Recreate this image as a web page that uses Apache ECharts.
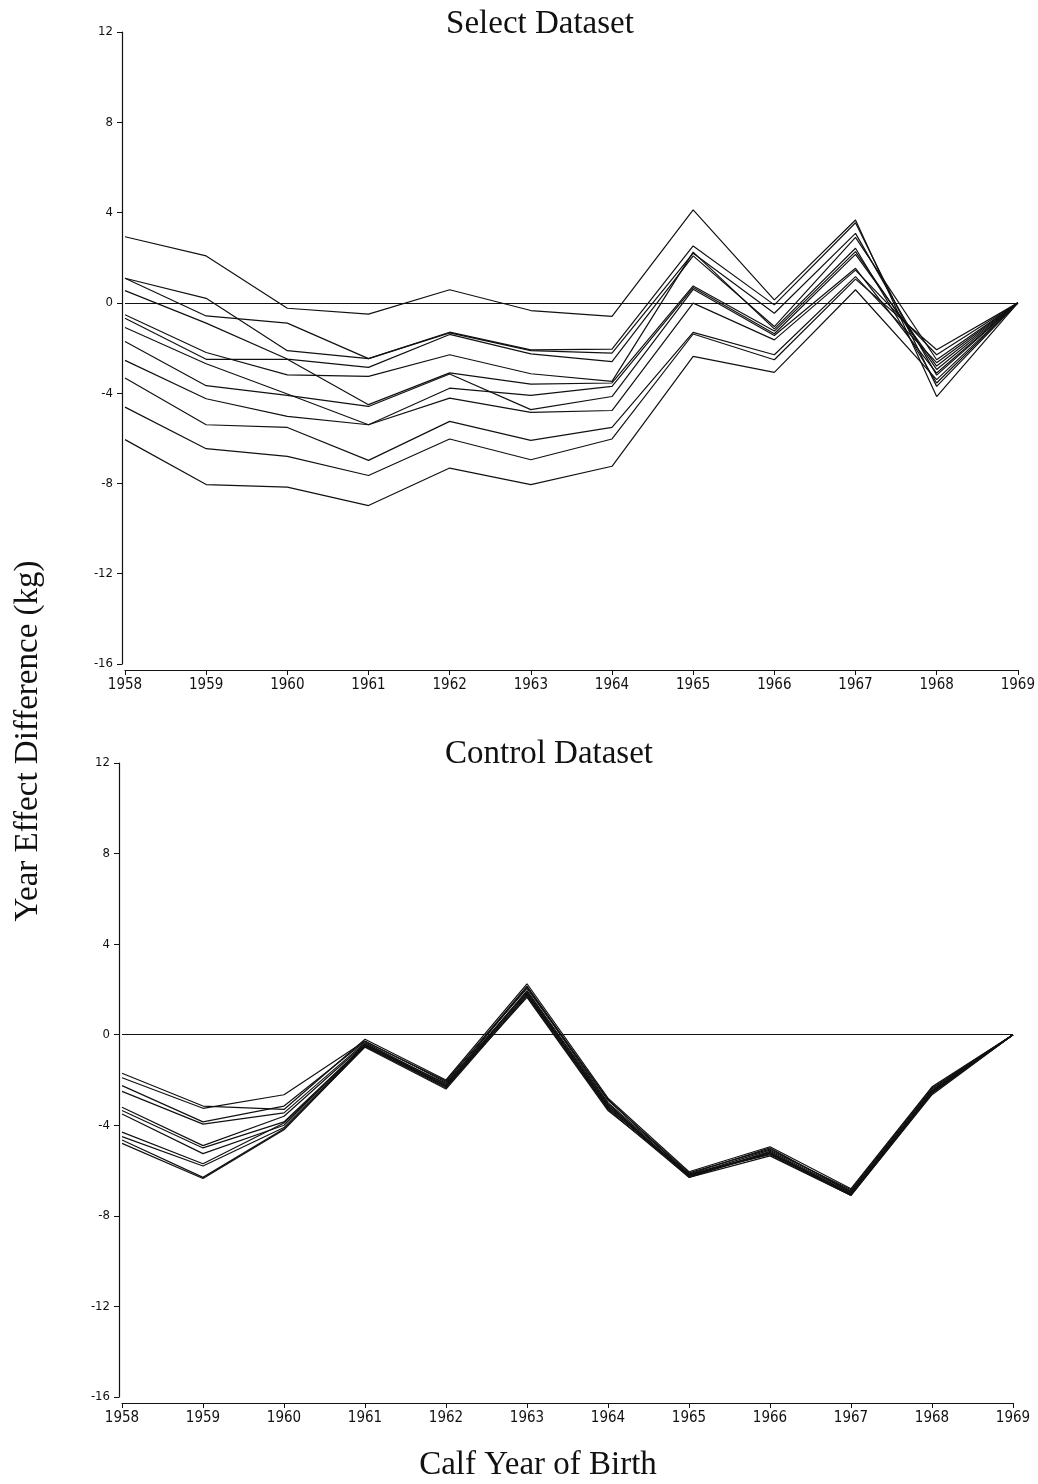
<!DOCTYPE html>
<html>
<head>
<meta charset="utf-8">
<title>Year Effect Difference</title>
<script src="https://cdn.jsdelivr.net/npm/echarts@6/dist/echarts.min.js"></script>
<style>
  html, body { margin: 0; padding: 0; background: #fff; }
  #chart { width: 1038px; height: 1484px; }
</style>
</head>
<body>
<div id="chart"></div>
<script>
// Calf year of birth (shared by both panels)
const years = ['1958','1959','1960','1961','1962','1963','1964','1965','1966','1967','1968','1969'];
const yTicks = { min: -16, max: 12, step: 4 };

// Select dataset: year-effect differences (kg), one run per array
const sel1  = [ 2.93,  2.08, -0.24, -0.50,  0.58, -0.34, -0.60,  4.12,  0.13,  3.67, -4.15, 0];
const sel2  = [ 1.09,  0.20, -2.12, -2.47, -1.30, -2.08, -2.05,  2.52, -0.09,  3.55, -3.70, 0];
const sel3  = [ 1.09, -0.58, -0.90, -2.47, -1.33, -2.12, -2.23,  2.20, -0.46,  3.08, -3.20, 0];
const sel4  = [ 0.54, -0.90, -2.49, -2.86, -1.40, -2.26, -2.60,  2.08, -1.05,  2.90, -2.52, 0];
const sel5  = [-0.53, -2.20, -3.19, -3.26, -2.30, -3.14, -3.48,  2.25, -1.15,  2.42, -3.55, 0];
const sel6  = [-0.68, -2.50, -2.50, -4.51, -3.10, -3.60, -3.55,  0.75, -1.25,  2.27, -2.95, 0];
const sel7  = [-1.09, -2.70, -4.04, -5.40, -3.78, -4.10, -3.70,  0.68, -1.37,  2.15, -2.80, 0];
const sel8  = [-1.71, -3.67, -4.10, -4.59, -3.15, -4.73, -4.15,  0.60, -1.45,  1.53, -3.11, 0];
const sel9  = [-2.55, -4.25, -5.03, -5.40, -4.22, -4.85, -4.77, -0.01, -1.64,  1.45, -2.30, 0];
const sel10 = [-3.33, -5.40, -5.52, -6.98, -5.25, -6.09, -5.52, -1.31, -2.30,  1.16, -2.65, 0];
const sel11 = [-4.62, -6.46, -6.80, -7.65, -6.03, -6.95, -6.03, -1.38, -2.52,  1.05, -2.08, 0];
const sel12 = [-6.06, -8.05, -8.16, -8.98, -7.32, -8.05, -7.24, -2.37, -3.08,  0.58, -3.40, 0];

// Control dataset
const ctl1  = [-1.70, -3.15, -3.30, -0.20, -2.00,  2.25, -2.80, -6.05, -4.95, -6.80, -2.30, 0];
const ctl2  = [-1.90, -3.25, -2.65, -0.28, -2.10,  2.15, -2.90, -6.10, -5.05, -6.90, -2.40, 0];
const ctl3  = [-2.25, -3.85, -3.15, -0.30, -2.05,  2.05, -2.85, -6.20, -5.10, -6.85, -2.35, 0];
const ctl4  = [-2.50, -3.95, -3.45, -0.35, -2.20,  2.10, -3.00, -6.15, -5.00, -6.95, -2.50, 0];
const ctl5  = [-3.20, -4.90, -3.60, -0.40, -2.25,  1.95, -3.05, -6.25, -5.20, -7.00, -2.45, 0];
const ctl6  = [-3.35, -5.00, -3.85, -0.45, -2.15,  1.85, -3.15, -6.20, -5.25, -7.05, -2.55, 0];
const ctl7  = [-3.50, -5.25, -4.00, -0.42, -2.30,  1.90, -3.10, -6.30, -5.15, -6.95, -2.50, 0];
const ctl8  = [-4.30, -5.70, -3.90, -0.50, -2.35,  1.80, -3.25, -6.15, -5.30, -7.10, -2.60, 0];
const ctl9  = [-4.50, -5.80, -4.10, -0.48, -2.25,  1.75, -3.20, -6.25, -5.25, -7.05, -2.55, 0];
const ctl10 = [-4.65, -6.30, -4.15, -0.55, -2.40,  1.70, -3.30, -6.30, -5.35, -7.10, -2.65, 0];
const ctl11 = [-4.80, -6.35, -4.20, -0.52, -2.30,  1.65, -3.35, -6.20, -5.20, -7.00, -2.50, 0];

const selectRuns  = [sel1, sel2, sel3, sel4, sel5, sel6, sel7, sel8, sel9, sel10, sel11, sel12];
const controlRuns = [ctl1, ctl2, ctl3, ctl4, ctl5, ctl6, ctl7, ctl8, ctl9, ctl10, ctl11];

const INK = '#111';
const tickFont = '"Liberation Sans Narrow", "DejaVu Sans Condensed", "Liberation Sans", sans-serif';
const serif = '"Liberation Serif", "DejaVu Serif", serif';

function xAxisFor(gridIndex) {
  return {
    type: 'category', gridIndex, data: years, boundaryGap: false, offset: 6,
    axisLine: { show: true, onZero: false, lineStyle: { color: INK, width: 1.2 } },
    axisTick: { show: true, length: 5, lineStyle: { color: INK } },
    axisLabel: { color: INK, fontSize: 15, fontFamily: tickFont, margin: 8 },
    splitLine: { show: false }
  };
}
function yAxisFor(gridIndex) {
  return {
    type: 'value', gridIndex, min: yTicks.min, max: yTicks.max, interval: yTicks.step, offset: 3,
    axisLine: { show: true, onZero: false, lineStyle: { color: INK, width: 1.2 } },
    axisTick: { show: true, length: 5, lineStyle: { color: INK } },
    axisLabel: { color: INK, fontSize: 13, fontFamily: tickFont, margin: 9 },
    splitLine: { show: false }
  };
}

function runSeries(runs, axisIndex) {
  return runs.map((vals, i) => ({
    type: 'line', xAxisIndex: axisIndex, yAxisIndex: axisIndex, data: vals,
    symbol: 'none', silent: true,
    lineStyle: { color: INK, width: 1.2 },
    markLine: i === 0 ? {
      silent: true, symbol: 'none', label: { show: false },
      lineStyle: { color: INK, width: 1.1, type: 'solid' },
      data: [{ yAxis: 0 }]
    } : undefined
  }));
}

const chart = echarts.init(document.getElementById('chart'), null, { renderer: 'canvas' });
chart.setOption({
  animation: false,
  backgroundColor: '#fff',
  title: [
    { text: 'Select Dataset', left: 535, top: 3, textAlign: 'center',
      textStyle: { fontFamily: serif, fontSize: 33, fontWeight: 'normal', color: INK } },
    { text: 'Control Dataset', left: 544, top: 733, textAlign: 'center',
      textStyle: { fontFamily: serif, fontSize: 33, fontWeight: 'normal', color: INK } }
  ],
  grid: [
    { left: 125, right: 19, top: 32, height: 632 },
    { left: 122, right: 25, top: 763, height: 634 }
  ],
  xAxis: [xAxisFor(0), xAxisFor(1)],
  yAxis: [yAxisFor(0), yAxisFor(1)],
  series: [...runSeries(selectRuns, 0), ...runSeries(controlRuns, 1)],
  graphic: [
    { type: 'text', x: 28, y: 741, rotation: Math.PI / 2,
      style: { text: 'Year Effect Difference (kg)', fontFamily: serif, fontSize: 33,
               fill: INK, textAlign: 'center', textVerticalAlign: 'middle' } },
    { type: 'text', x: 538, y: 1465,
      style: { text: 'Calf Year of Birth', fontFamily: serif, fontSize: 33,
               fill: INK, textAlign: 'center', textVerticalAlign: 'middle' } }
  ]
});
</script>
</body>
</html>
